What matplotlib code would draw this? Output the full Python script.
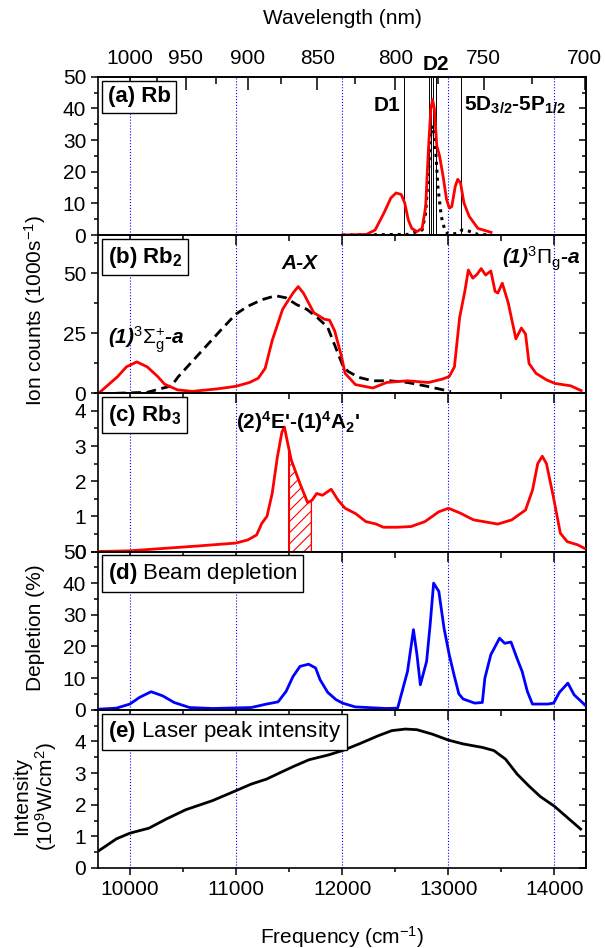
import numpy as np
import matplotlib
matplotlib.use("Agg")
import matplotlib.pyplot as plt
from matplotlib.ticker import MultipleLocator, FixedLocator

plt.rcParams['font.family'] = ['Liberation Sans', 'DejaVu Sans']
plt.rcParams['mathtext.fontset'] = 'custom'
plt.rcParams['mathtext.rm'] = 'Liberation Sans'
plt.rcParams['mathtext.it'] = 'Liberation Sans:italic'
plt.rcParams['mathtext.bf'] = 'Liberation Sans:bold'
plt.rcParams['axes.linewidth'] = 1.2
plt.rcParams['hatch.linewidth'] = 0.8

# (a) Rb ion signal (red) and atomic line profile (dotted)
rb_x = [12000, 12230, 12311, 12393, 12459, 12508, 12557, 12590, 12623, 12656, 12705, 12754,
        12787, 12813, 12836, 12852, 12869, 12892, 12918, 12951, 12984, 13010, 13033, 13066,
        13089, 13115, 13148, 13197, 13279, 13403]
rb_y = [0, 0.2, 1.6, 6.9, 11.7, 13.3, 12.8, 10.1, 4.8, 2.1, 1.1, 2.1,
        9.0, 27.1, 39.9, 42.8, 39.9, 28.2, 25.0, 18.6, 11.2, 8.5, 9.0, 15.4,
        17.6, 16.5, 10.1, 5.9, 2.1, 0.85]
rbdot_x = [12000, 12623, 12754, 12787, 12813, 12836, 12852, 12875, 12902, 12934, 12967, 13000,
           13082, 13131, 13180, 13279, 13410]
rbdot_y = [0, 0.2, 1.6, 6.9, 19.7, 32.4, 34.6, 30.3, 15.4, 5.9, 1.6, 0.2,
           0.5, 1.6, 1.4, 0.2, 0]
rb_lines = [12579, 12816, 12840, 12860, 12880, 13121]

# (b) Rb2 ion signal and A-X simulation (dashed)
rb2_x = [9706, 9886, 9967, 10065, 10164, 10262, 10327, 10450, 10589, 10818, 10998, 11128,
         11210, 11275, 11341, 11439, 11537, 11586, 11635, 11733, 11832, 11881, 11930, 11995,
         12028, 12126, 12289, 12420, 12616, 12813, 12944, 13009, 13058, 13107, 13156, 13189,
         13231, 13271, 13310, 13352, 13401, 13441, 13467, 13509, 13565, 13637, 13689, 13728,
         13761, 13827, 13925, 14006, 14154, 14252]
rb2_y = [0, 7.0, 11.0, 13.1, 11.0, 7.0, 3.8, 1.4, 0.8, 1.8, 2.9, 4.5,
         6.3, 10.4, 22.0, 35.0, 41.8, 44.5, 41.8, 33.6, 30.9, 30.5, 26.0, 15.2,
         8.3, 3.6, 2.2, 4.5, 5.2, 4.5, 5.9, 7.0, 11.0, 31.6, 42.5, 51.4,
         48.0, 49.6, 52.0, 49.3, 51.0, 42.5, 41.8, 45.9, 37.7, 22.7, 27.2, 24.7,
         12.4, 8.3, 5.6, 4.1, 3.1, 1.1]
ax_sim_x = [9869, 10164, 10392, 10458, 10654, 10850, 10998, 11112, 11243, 11374, 11472, 11570,
            11668, 11766, 11864, 11962, 12011, 12060, 12159, 12289, 12453, 12616, 12780, 12944,
            13025]
ax_sim_y = [0, 0.4, 3.1, 7.0, 16.5, 26.0, 33.0, 36.3, 39.0, 40.7, 39.8, 37.0,
            35.0, 31.6, 27.5, 16.5, 11.0, 9.0, 6.6, 5.2, 5.2, 4.5, 3.1, 1.5,
            0.7]

# (c) Rb3 ion signal
rb3_x = [9706, 10000, 10327, 10654, 10998, 11112, 11194, 11243, 11292, 11341, 11390, 11433,
         11456, 11488, 11521, 11603, 11675, 11717, 11760, 11815, 11897, 11962, 12028, 12126,
         12224, 12322, 12388, 12518, 12649, 12780, 12911, 13002, 13107, 13238, 13467, 13598,
         13728, 13794, 13843, 13886, 13925, 13990, 14056, 14121, 14219, 14284]
rb3_y = [0, 0.02, 0.09, 0.16, 0.24, 0.33, 0.47, 0.8, 1.0, 1.65, 2.69, 3.4,
         3.54, 3.07, 2.6, 1.93, 1.39, 1.46, 1.65, 1.6, 1.77, 1.46, 1.23, 1.08,
         0.85, 0.78, 0.69, 0.69, 0.71, 0.85, 1.13, 1.23, 1.1, 0.9, 0.78, 0.9,
         1.18, 1.75, 2.5, 2.71, 2.5, 1.56, 0.52, 0.28, 0.19, 0.09]
hatch_lo, hatch_hi = 11495, 11710

# (d) beam depletion
dep_x = [9710, 9873, 10000, 10091, 10200, 10309, 10417, 10563, 10780, 11143, 11289, 11397,
         11472, 11537, 11603, 11684, 11750, 11792, 11864, 11942, 12004, 12123, 12414, 12523,
         12559, 12616, 12672, 12705, 12737, 12796, 12829, 12862, 12911, 12960, 13009, 13058,
         13100, 13140, 13249, 13321, 13345, 13401, 13483, 13532, 13591, 13647, 13696, 13745,
         13793, 13938, 13993, 14047, 14127, 14186, 14247, 14294]
dep_y = [0.2, 0.5, 1.8, 3.9, 5.7, 4.4, 2.3, 0.7, 0.4, 0.7, 1.8, 2.5,
         5.8, 10.5, 13.7, 14.4, 13.2, 9.5, 5.5, 3.2, 2.1, 0.9, 0.4, 0.5,
         5.0, 12.1, 25.3, 17.4, 7.9, 15.3, 26.8, 40.0, 37.4, 25.8, 17.4, 10.5,
         5.0, 3.4, 2.1, 2.3, 10.0, 17.4, 22.6, 21.0, 21.4, 16.3, 12.1, 5.8,
         1.8, 1.8, 2.1, 5.5, 8.4, 4.7, 2.8, 1.3]

# (e) laser peak intensity
las_x = [9710, 9873, 10000, 10181, 10345, 10526, 10780, 10998, 11143, 11289, 11434, 11543,
         11688, 11869, 12004, 12160, 12341, 12468, 12595, 12704, 12849, 13002, 13140, 13321,
         13430, 13539, 13648, 13757, 13866, 14000, 14120, 14247]
las_y = [0.55, 0.92, 1.1, 1.26, 1.55, 1.84, 2.13, 2.44, 2.65, 2.81, 3.04, 3.21,
         3.42, 3.57, 3.71, 3.92, 4.18, 4.34, 4.39, 4.37, 4.23, 4.04, 3.92, 3.81,
         3.71, 3.44, 2.97, 2.6, 2.26, 1.95, 1.6, 1.23]

wl_major = [1000, 950, 900, 850, 800, 750, 700]
wl_minor = [975, 925, 875, 825, 775, 725]
freq_grid = [10000, 11000, 12000, 13000, 14000]

ylims = [(0, 50), (0, 66), (0, 4.5), (0, 50), (0, 5)]
ymajor = [np.arange(0, 51, 10), [0, 25, 50], [0, 1, 2, 3, 4], np.arange(0, 51, 10), [0, 1, 2, 3, 4]]
yminor = [5, 12.5, 0.5, 5, 0.5]
panel_txt = [r"(a) Rb", r"(b) Rb$_\mathbf{2}$", r"(c) Rb$_\mathbf{3}$",
             r"$\mathbf{(d)}$ Beam depletion", r"$\mathbf{(e)}$ Laser peak intensity"]

fig = plt.figure(figsize=(6.05, 9.48), dpi=100)
gs = fig.add_gridspec(5, 1, left=0.162, right=0.969, top=0.919, bottom=0.0844, hspace=0)
axes = [fig.add_subplot(gs[i]) for i in range(5)]

for i, ax in enumerate(axes):
    ax.set_xlim(9700, 14300)
    ax.set_ylim(*ylims[i])
    ax.set_yticks(ymajor[i])
    ax.yaxis.set_minor_locator(MultipleLocator(yminor[i]))
    ax.tick_params(axis='y', which='both', direction='out', labelsize=15, width=1.1)
    ax.tick_params(axis='y', which='major', length=5)
    ax.tick_params(axis='y', which='minor', length=3)
    ax.xaxis.set_major_locator(MultipleLocator(1000))
    ax.xaxis.set_minor_locator(MultipleLocator(500))
    for xg in freq_grid:
        ax.axvline(xg, color='blue', ls=':', lw=0.8, zorder=0)
    # right side ticks pointing inwards
    sy = ax.secondary_yaxis('right')
    sy.set_yticks(ymajor[i])
    sy.yaxis.set_minor_locator(MultipleLocator(yminor[i]))
    sy.tick_params(which='both', direction='in', labelright=False, width=1.1)
    sy.tick_params(which='major', length=5)
    sy.tick_params(which='minor', length=3)
    if i < 4:
        ax.tick_params(axis='x', which='both', bottom=False, labelbottom=False)
    else:
        ax.tick_params(axis='x', which='both', direction='out', labelsize=15, width=1.1)
        ax.tick_params(axis='x', which='major', length=5)
        ax.tick_params(axis='x', which='minor', length=3)
    if i > 0:
        sx = ax.secondary_xaxis('top')
        sx.xaxis.set_major_locator(MultipleLocator(1000))
        sx.xaxis.set_minor_locator(MultipleLocator(500))
        sx.tick_params(which='both', direction='in', labeltop=False, width=1.1)
        sx.tick_params(which='major', length=7)
        sx.tick_params(which='minor', length=4)
    ax.text(0.02, 0.94, panel_txt[i], transform=ax.transAxes, fontsize=16,
            fontweight='bold' if i < 3 else 'normal', va='top', ha='left', zorder=5,
            bbox=dict(boxstyle='square,pad=0.25', fc='white', ec='black', lw=1))

# (a)
ax = axes[0]
for xl in rb_lines:
    ax.axvline(xl, color='black', lw=0.7, zorder=1)
ax.plot(rbdot_x, rbdot_y, color='black', ls=(0, (1, 1.6)), lw=2.2, zorder=2)
ax.plot(rb_x, rb_y, color='red', lw=2.0, zorder=3)
ax.text(12545, 41, "D1", fontsize=15, fontweight='bold', ha='right', va='center')
ax.text(12880, 53.8, "D2", fontsize=15, fontweight='bold', ha='center', va='center', clip_on=False)
ax.text(13150, 41, r"5D$_\mathbf{3/2}$-5P$_\mathbf{1/2}$", fontsize=15, fontweight='bold',
        ha='left', va='center')

wtop = ax.secondary_xaxis('top', functions=(lambda f: 1e7 / np.clip(f, 1, None),
                                            lambda w: 1e7 / np.clip(w, 1, None)))
wtop.xaxis.set_major_locator(FixedLocator(wl_major))
wtop.xaxis.set_minor_locator(FixedLocator(wl_minor))
wtop.tick_params(which='both', direction='in', labelsize=15, width=1.1, pad=6)
wtop.tick_params(which='major', length=9)
wtop.tick_params(which='minor', length=5)

# (b)
ax = axes[1]
ax.plot(ax_sim_x, ax_sim_y, color='black', ls=(0, (3.5, 2)), lw=2.0, zorder=2)
ax.plot(rb2_x, rb2_y, color='red', lw=2.0, zorder=3)
ax.text(11600, 54, "A-X", fontsize=15, fontweight='bold', style='italic', ha='center', va='center')
ax.text(14240, 56, r"(1)$^\mathrm{3}\Pi_\mathrm{g}$-a", fontsize=15, fontweight='bold',
        style='italic', ha='right', va='center')
ax.text(9790, 22.5, r"(1)$^\mathrm{3}\Sigma_\mathrm{g}^\mathrm{+}$-a", fontsize=15, fontweight='bold',
        style='italic', ha='left', va='center')

# (c)
ax = axes[2]
ax.plot(rb3_x, rb3_y, color='red', lw=2.0, zorder=3)
hx = [hatch_lo] + [v for v in rb3_x if hatch_lo < v < hatch_hi] + [hatch_hi]
hy = np.interp(hx, rb3_x, rb3_y)
ax.fill_between(hx, 0, hy, facecolor='none', edgecolor='red', hatch='///', lw=0.8, zorder=2)
ax.vlines([hatch_lo, hatch_hi], 0, [hy[0], hy[-1]], color='red', lw=0.8, zorder=2)
ax.text(11000, 3.68, r"(2)$^\mathbf{4}$E'-(1)$^\mathbf{4}$A$_\mathbf{2}$'", fontsize=15,
        fontweight='bold', ha='left', va='center')

# (d)
axes[3].plot(dep_x, dep_y, color='blue', lw=2.0, zorder=3)

# (e)
axes[4].plot(las_x, las_y, color='black', lw=2.0, zorder=3)

fig.text(0.058, 0.672, r"Ion counts (1000s$^{-1}$)", rotation=90, fontsize=15, ha='center', va='center')
fig.text(0.058, 0.338, "Depletion (%)", rotation=90, fontsize=15, ha='center', va='center')
fig.text(0.058, 0.16, "Intensity\n" + r"(10$^9$W/cm$^2$)", rotation=90, fontsize=15,
         ha='center', va='center', multialignment='center', linespacing=1.1)
fig.text(0.5655, 0.012, r"Frequency (cm$^{-1}$)", fontsize=15, ha='center', va='center')
fig.text(0.5655, 0.98, "Wavelength (nm)", fontsize=15, ha='center', va='center')

fig.savefig("out.png", dpi=100)
